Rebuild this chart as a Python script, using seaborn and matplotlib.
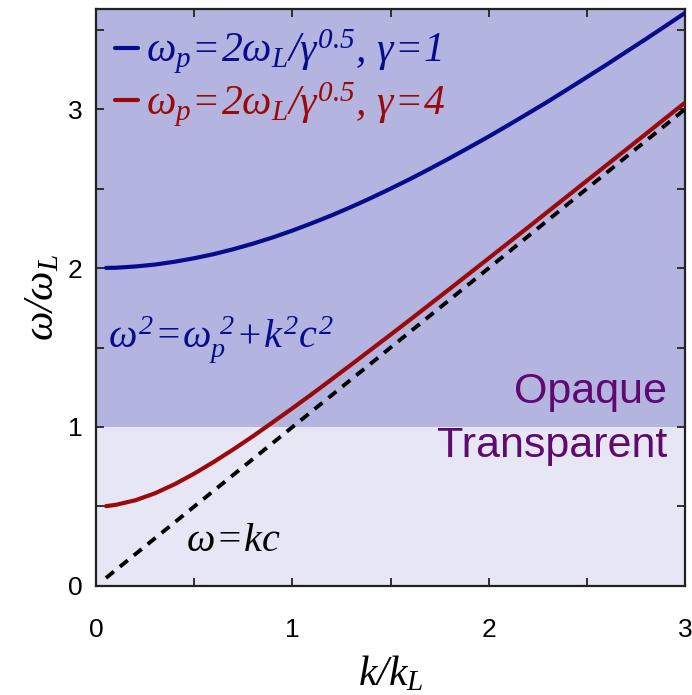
import numpy as np
import pandas as pd
import matplotlib
matplotlib.use("Agg")
import matplotlib.pyplot as plt
import seaborn as sns
from matplotlib.ticker import MultipleLocator

# ---- data ----
k_vals = [0.05, 0.1, 0.2, 0.3, 0.4, 0.5, 0.6, 0.7, 0.8, 0.9, 1.0,
          1.1, 1.2, 1.3, 1.4, 1.5, 1.6, 1.7, 1.8, 1.9, 2.0,
          2.1, 2.2, 2.3, 2.4, 2.5, 2.6, 2.7, 2.8, 2.9, 3.0]
omega_g1 = [2.001, 2.002, 2.010, 2.022, 2.040, 2.062, 2.088, 2.119, 2.154, 2.193, 2.236,
            2.283, 2.332, 2.385, 2.441, 2.500, 2.561, 2.625, 2.691, 2.759, 2.828,
            2.900, 2.973, 3.047, 3.124, 3.202, 3.280, 3.361, 3.441, 3.523, 3.606]
omega_g4 = [0.502, 0.510, 0.539, 0.583, 0.640, 0.707, 0.781, 0.860, 0.943, 1.030, 1.118,
            1.208, 1.300, 1.393, 1.487, 1.581, 1.676, 1.772, 1.868, 1.965, 2.062,
            2.159, 2.256, 2.354, 2.452, 2.550, 2.648, 2.746, 2.844, 2.943, 3.041]
light_k = [0.05, 3.0]
light_omega = [0.05, 3.0]
series_labels = [r"$\omega_p\!=\!2\omega_L/\gamma^{0.5},\,\gamma\!=\!1$",
                 r"$\omega_p\!=\!2\omega_L/\gamma^{0.5},\,\gamma\!=\!4$"]
x_ticks = [0, 1, 2, 3]
y_ticks = [0, 1, 2, 3]

sns.set_theme(style="ticks")
plt.rcParams["font.family"] = ["Liberation Sans", "DejaVu Sans"]
plt.rcParams["mathtext.fontset"] = "custom"
plt.rcParams["mathtext.rm"] = "Liberation Serif:italic"
plt.rcParams["mathtext.it"] = "Liberation Serif:italic"
plt.rcParams["mathtext.bf"] = "Liberation Serif:italic"

BLUE = "#0a0a8c"
RED = "#9a0a0a"
PURPLE = "#600a70"

fig = plt.figure(figsize=(6.92, 6.95), dpi=100)
ax = fig.add_axes([0.139, 0.157, 0.851, 0.830])

ax.set_xlim(0, 3)
ax.set_ylim(0, 3.63)
ax.axhspan(1, 3.63, color="#b4b4e1", zorder=0, lw=0)
ax.axhspan(0, 1, color="#e6e6f4", zorder=0, lw=0)

df = pd.DataFrame({
    "k": k_vals * 2,
    "omega": omega_g1 + omega_g4,
    "series": [series_labels[0]] * len(k_vals) + [series_labels[1]] * len(k_vals),
})
sns.lineplot(data=df, x="k", y="omega", hue="series", hue_order=series_labels,
             palette=[BLUE, RED], lw=3.0, ax=ax, zorder=3)
sns.lineplot(x=light_k, y=light_omega, color="black", lw=2.8, ax=ax, zorder=4,
             linestyle=(0, (2.6, 2.0)))

leg = ax.legend(loc="upper left", frameon=False, fontsize=30, handlelength=0.55,
                handletextpad=0.2, borderaxespad=0.05, labelspacing=0.1,
                bbox_to_anchor=(0.0, 1.0))
for txt, c in zip(leg.get_texts(), [BLUE, RED]):
    txt.set_color(c)

ax.text(0.06, 1.55, r"$\omega^2\!=\!\omega_p^{\ 2}\!+\!k^2c^2$", color=BLUE, fontsize=29,
        ha="left", va="center")
ax.text(0.46, 0.29, r"$\omega\!=\!kc$", color="black", fontsize=29, ha="left", va="center")
ax.text(2.91, 1.22, "Opaque", color=PURPLE, fontsize=31, ha="right", va="center")
ax.text(2.91, 0.88, "Transparent", color=PURPLE, fontsize=31, ha="right", va="center")

ax.set_xlabel(r"$k/k_L$", fontsize=30, color="black", labelpad=9)
ax.set_ylabel(r"$\omega/\omega_L$", fontsize=30, color="black", labelpad=4)

ax.set_xticks(x_ticks)
ax.set_yticks(y_ticks)
ax.xaxis.set_minor_locator(MultipleLocator(0.5))
ax.yaxis.set_minor_locator(MultipleLocator(0.5))
ax.tick_params(which="both", direction="in", top=True, right=True, length=6, width=1.3,
               color="#222222")
ax.tick_params(axis="both", which="major", labelsize=19, labelcolor="black")
ax.tick_params(axis="x", which="major", pad=23)
ax.tick_params(axis="y", which="major", pad=10)
for s in ax.spines.values():
    s.set_linewidth(1.6)
    s.set_color("#222222")

fig.savefig("out.png", dpi=100)
